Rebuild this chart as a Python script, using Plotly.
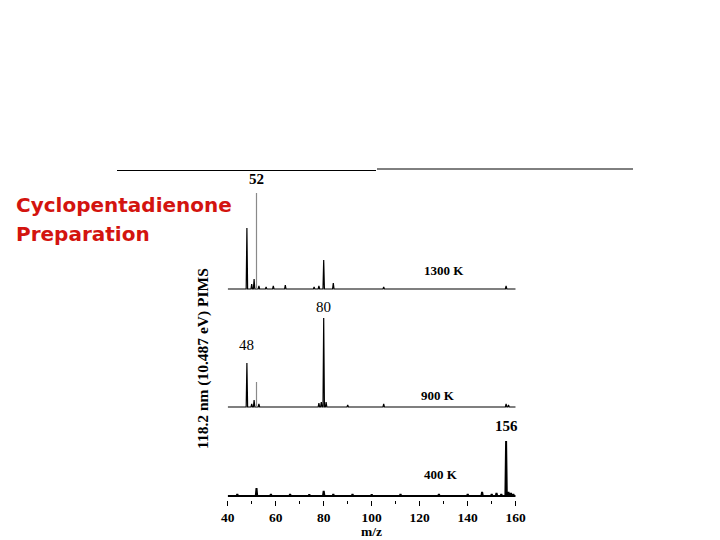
import plotly.graph_objects as go

# peak lists: m/z and signal (arb. units, ~1 unit = 1 px)
mz_1300 = [48, 50, 51, 52, 53, 56, 59, 64, 76, 78, 80, 84, 105, 156]
sig_1300 = [61, 5, 10, 96, 3, 2, 3, 4, 2, 3, 29, 6, 2, 3]

mz_900 = [48, 50, 51, 52, 53, 78, 79, 80, 81, 90, 105, 156, 157]
sig_900 = [44, 3, 7, 25, 3, 4, 5, 89, 5, 2, 3, 3, 2]

mz_400 = [44, 52, 58, 66, 74, 80, 84, 92, 100, 112, 128, 140, 146, 150, 152, 154, 156, 157, 158, 159]
sig_400 = [2, 8, 2, 2, 1.5, 5, 2, 2, 1.5, 2, 2, 2, 4, 2, 3, 2, 55, 4, 3, 2]

temps = ["1300 K", "900 K", "400 K"]
offsets = [207, 89, 0]

SERIF = "Liberation Serif, Times New Roman, serif"


def stick_line(mz, sig, offset, skip=()):
    """turn a peak list into one continuous stick-spectrum line"""
    xs, ys = [40], [offset]
    for m, s in zip(mz, sig):
        if m in skip:
            continue
        xs += [m - 0.3, m, m + 0.3]
        ys += [offset, offset + s, offset]
    xs.append(160)
    ys.append(offset)
    return xs, ys


fig = go.Figure()

spectra = [(mz_1300, sig_1300), (mz_900, sig_900), (mz_400, sig_400)]
for (mz, sig), off, name in zip(spectra, offsets, temps):
    # the m/z 52 line is printed lighter in the top two spectra
    skip = (52,) if name != "400 K" else ()
    xs, ys = stick_line(mz, sig, off, skip)
    fig.add_trace(
        go.Scatter(
            x=xs, y=ys, mode="lines",
            line={"color": "black", "width": 2.0 if name == "400 K" else 1.2},
            hoverinfo="skip", showlegend=False,
        )
    )
    if skip:
        s52 = sig[mz.index(52)]
        fig.add_trace(
            go.Scatter(
                x=[52, 52], y=[off, off + s52], mode="lines",
                line={"color": "#8a8a8a", "width": 1.2},
                hoverinfo="skip", showlegend=False,
            )
        )

# peak labels (label, gap above the peak top in px)
peak_labels = [
    (52, offsets[0] + sig_1300[mz_1300.index(52)], "<b>52</b>", 4),
    (48, offsets[1] + sig_900[mz_900.index(48)], "48", 8),
    (80, offsets[1] + sig_900[mz_900.index(80)], "80", 1),
    (156, offsets[2] + sig_400[mz_400.index(156)], "<b>156</b>", 5),
]
for x, y, t, gap in peak_labels:
    fig.add_annotation(
        x=x, y=y, text=t, showarrow=False, yanchor="bottom", yshift=gap,
        font={"family": SERIF, "size": 15, "color": "black"},
    )

temp_pos = [(130.3, offsets[0] + 19), (127.8, offsets[1] + 12), (128.7, offsets[2] + 22)]
for (x, y), t in zip(temp_pos, temps):
    fig.add_annotation(
        x=x, y=y, text="<b>" + t + "</b>", showarrow=False,
        font={"family": SERIF, "size": 13, "color": "black"},
    )

fig.add_annotation(
    xref="paper", yref="paper", x=203 / 720, y=1 - 359 / 540,
    xanchor="center", yanchor="middle",
    text="<b>118.2 nm (10.487 eV) PIMS</b>", textangle=-90, showarrow=False,
    font={"family": SERIF, "size": 15.5, "color": "black"},
)

# x axis title, set as a note so it sits clear of the tick labels
fig.add_annotation(
    xref="x", yref="paper", x=100, y=0,
    xanchor="center", yanchor="bottom", borderpad=0,
    text="<b>m/z</b>", showarrow=False,
    font={"family": SERIF, "size": 13.5, "color": "black"},
)

for line_text, yc in [("Cyclopentadienone", 205), ("Preparation", 234)]:
    fig.add_annotation(
        xref="paper", yref="paper", x=14 / 720, y=1 - yc / 540,
        xanchor="left", yanchor="middle",
        text="<b>" + line_text + "</b>", showarrow=False,
        font={"family": "DejaVu Sans, sans-serif", "size": 20, "color": "#d3140f"},
    )

# slide rule lines
fig.add_shape(type="line", xref="paper", yref="paper",
              x0=117 / 720, x1=376 / 720, y0=1 - 170.5 / 540, y1=1 - 170.5 / 540,
              line={"color": "black", "width": 1})
fig.add_shape(type="line", xref="paper", yref="paper",
              x0=377 / 720, x1=633 / 720, y0=1 - 169 / 540, y1=1 - 169 / 540,
              line={"color": "black", "width": 1})

fig.update_layout(
    width=720, height=540,
    margin={"l": 0, "r": 0, "t": 0, "b": 0, "autoexpand": False},
    paper_bgcolor="white", plot_bgcolor="white",
    xaxis={
        "domain": [227.7 / 720, 515.7 / 720],
        "range": [40, 160],
        "dtick": 20, "tick0": 40,
        "ticks": "outside", "ticklen": 5, "tickcolor": "black", "tickwidth": 1,
        "minor": {"dtick": 10, "ticks": "outside", "ticklen": 3, "tickcolor": "black"},
        "showgrid": False, "zeroline": False, "showline": False, "automargin": False,
        "tickfont": {"family": SERIF, "size": 13.5, "color": "black", "weight": "bold"},
    },
    yaxis={
        "domain": [1 - 500 / 540, 1 - 170 / 540],
        "range": [-4, 326],
        "visible": False, "automargin": False,
    },
)

fig.write_html(
    "out.html",
    config={"displayModeBar": False},
    post_script="document.body.style.margin='0';document.body.style.overflow='hidden';",
)
